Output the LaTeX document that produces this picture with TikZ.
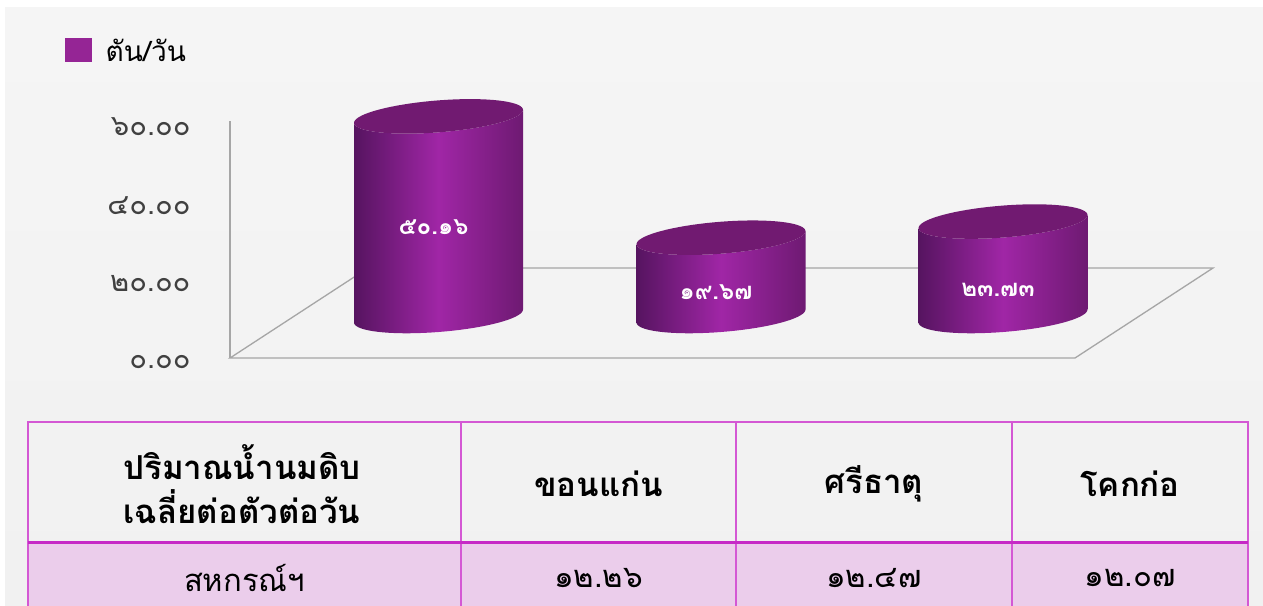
\documentclass[tikz,border=0pt]{standalone}
\usepackage{fontspec}
\newfontfamily\thaifont[Script=Thai]{Loma}
\usetikzlibrary{positioning}
\definecolor{pagegray}{HTML}{F5F5F5}
\definecolor{pagegraylow}{HTML}{F1F1F1}
\definecolor{axisgray}{HTML}{A6A6A6}
\definecolor{ticktext}{HTML}{404040}
\definecolor{legendfill}{HTML}{952595}
\definecolor{cylinderdark}{HTML}{561460}
\definecolor{cylindermid}{HTML}{A026A6}
\definecolor{cylinderright}{HTML}{6E1A72}
\definecolor{cylindertop}{HTML}{711A71}
\definecolor{tableline}{HTML}{D458D4}
\definecolor{tablerule}{HTML}{C62AC6}
\definecolor{rowfill}{HTML}{EBCDEB}

\begin{document}
\begin{tikzpicture}[x=1pt,y=-1pt,
    axisline/.style={axisgray,line width=1.3pt},
    ticklabel/.style={anchor=east,text=ticktext,font=\thaifont\fontsize{29}{29}\selectfont},
    barlabel/.style={text=white,font=\thaifont\bfseries\fontsize{24}{24}\selectfont},
    legendkey/.style={fill=legendfill,minimum width=27pt,minimum height=24pt,inner sep=0pt},
    legendtext/.style={font=\thaifont\fontsize{28}{28}\selectfont},
    headcell/.style={font=\thaifont\bfseries\fontsize{33}{44}\selectfont,align=center},
    datacell/.style={font=\thaifont\fontsize{31}{31}\selectfont}]
  % page
  \fill [white] (0,0) rectangle (1263,605);
  \shade [top color=pagegray,bottom color=pagegraylow] (5,7) rectangle (1263,605);
  \useasboundingbox (0,0) rectangle (1263,605);
  % legend
  \node [legendkey] (legendkey) at (78.5,50) {};
  \node [legendtext,right=10pt of legendkey] (legendtext) {ตัน/วัน};
  % axes and floor
  \coordinate (axistop) at (230,121);
  \coordinate (origin) at (230,358);
  \coordinate (floorright) at (1075,358);
  \coordinate (backright) at (1213,268);
  \coordinate (backleft) at (368,268);
  \draw [axisline] (axistop) -- (origin);
  \draw [axisline] (origin) -- (floorright) -- (backright) -- (backleft) -- cycle;
  \foreach \v/\lab [count=\i] in {0/๐.๐๐,20/๒๐.๐๐,40/๔๐.๐๐,60/๖๐.๐๐}
    \node [ticklabel] (tick\i) at (194,{362-\v*3.92}) {\lab};
  % cylinders
  \foreach \cx/\val/\lab/\ly [count=\i] in
      {438.5/50.16/๕๐.๑๖/227,721/19.67/๑๙.๖๗/292,1003/23.73/๒๓.๗๓/290} {
    \pgfmathsetmacro\ytop{316-\val*3.98}
    \pgfmathsetmacro\hgt{\val*3.98}
    \begin{scope}[shift={(\cx,\ytop)}]
      \shade [left color=cylinderdark,right color=cylinderright,middle color=cylindermid]
        (-84.5,6.5) -- (-84.5,\hgt+6.5)
        -- plot [domain=180:360,samples=37] ({84.5*cos(\x)},{\hgt-16*sin(\x)-6.5*cos(\x)})
        -- (84.5,-6.5)
        -- plot [domain=0:180,samples=37] ({84.5*cos(\x)},{16*sin(\x)-6.5*cos(\x)})
        -- cycle;
      \fill [cylindertop]
        plot [domain=0:360,samples=73] ({84.5*cos(\x)},{16*sin(\x)-6.5*cos(\x)}) -- cycle;
    \end{scope}
    \node [barlabel] (bar\i) at (\cx-5,\ly) {\lab};
  }
  % table
  \fill [rowfill] (28,542) rectangle (1248,610);
  \draw [tableline,line width=1.5pt] (28,610) -- (28,422) -- (1248,422) -- (1248,610);
  \foreach \x in {461,736,1012}
    \draw [tableline,line width=1.5pt] (\x,422) -- (\x,610);
  \draw [tablerule,line width=3pt] (28,542) -- (1248,542);
  \node [headcell] (headtitle) at (242,484) {ปริมาณน้ำนมดิบ\\เฉลี่ยต่อตัวต่อวัน};
  \node [headcell] (headkhonkaen) at (598.5,484) {ขอนแก่น};
  \node [headcell] (headsrithat) at (874,484) {ศรีธาตุ};
  \node [headcell] (headkhokko) at (1130,484) {โคกก่อ};
  \node [datacell] (rowname) at (244.5,578) {สหกรณ์ฯ};
  \node [datacell] (rowkhonkaen) at (598.5,578) {๑๒.๒๖};
  \node [datacell] (rowsrithat) at (874,578) {๑๒.๔๗};
  \node [datacell] (rowkhokko) at (1130,578) {๑๒.๐๗};
\end{tikzpicture}
\end{document}
